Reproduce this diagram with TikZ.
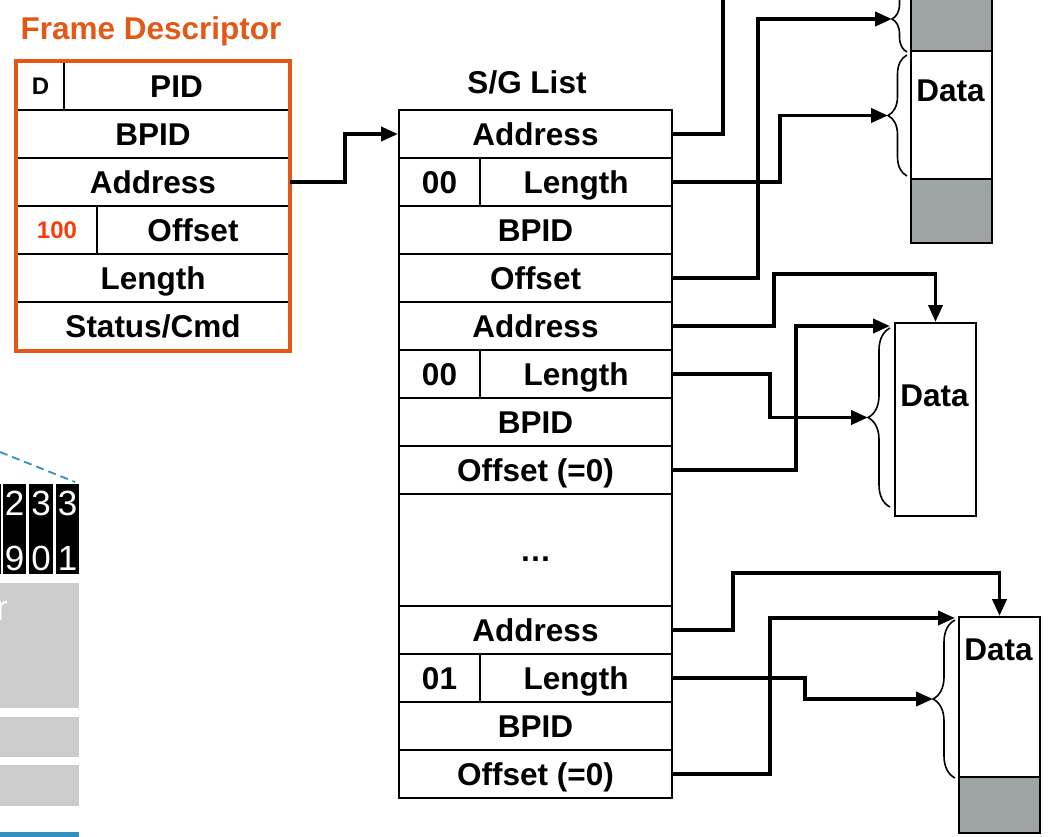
\documentclass[tikz,border=0pt]{standalone}
\usepackage{fontspec}
\setmainfont{Liberation Sans}
\usetikzlibrary{arrows.meta,decorations.pathreplacing}

\definecolor{fdorange}{RGB}{227,87,23}
\definecolor{fdred}{RGB}{245,60,10}
\definecolor{blkgray}{RGB}{156,164,166}
\definecolor{pgray}{RGB}{204,204,204}
\definecolor{pblue}{RGB}{50,145,190}

\tikzset{
  cell/.style={draw, line width=2pt, anchor=north west, inner sep=0pt,
    minimum height=48pt, text height=22.5pt, text depth=0pt,
    font=\bfseries\fontsize{31.5}{32}\selectfont},
  small/.style={font=\bfseries\fontsize{24}{24}\selectfont, text height=17pt},
  title/.style={font=\bfseries\fontsize{31.5}{32}\selectfont, text height=22.5pt, text depth=0pt},
  link/.style={line width=3.8pt},
  ptr/.style={link, -{Triangle[length=17pt,width=14pt]}},
  curly/.style={decorate, decoration={brace, amplitude=#1}, line width=1.6pt},
  datablk/.style={draw, line width=2pt, anchor=north west, minimum width=81pt, inner sep=0pt, fill=white},
  digit/.style={text=white, align=center, inner sep=0pt, font=\fontsize{35}{55}\selectfont},
}

\begin{document}
\begin{tikzpicture}[x=1pt, y=-1pt]
    \useasboundingbox (0,0) rectangle (1048,836);
    \clip (0,0) rectangle (1048,836);

    % Cut-off part of the neighbouring figure
    \draw[pblue, line width=1.8pt, dash pattern=on 8pt off 5pt] (0,452) -- (75,482);
    \fill[black] (0,484) rectangle (1,574);
    \fill[black] (3,484) rectangle (26,574);
    \fill[black] (29,484) rectangle (53,574);
    \fill[black] (56,484) rectangle (79,574);
    \node[digit] (c29) at (14.5,531) {2\\9};
    \node[digit] (c30) at (41,531) {3\\0};
    \node[digit] (c31) at (67.5,531) {3\\1};
    \fill[pgray] (0,583) rectangle (79,708);
    \fill[pgray] (0,717) rectangle (79,757);
    \fill[pgray] (0,765) rectangle (79,806);
    \node[text=white, font=\fontsize{36}{36}\selectfont, anchor=base east, inner sep=0pt] (rr) at (8,620) {r};
    \fill[pblue] (0,832) rectangle (79,840);

    % Frame Descriptor
    \node[title, text=fdorange] (fdtitle) at (151,28) {Frame Descriptor};
    \node[cell, small, minimum width=47pt] (fdD) at (16,61) {D};
    \node[cell, minimum width=225pt] (fdPID) at (63,61) {PID};
    \node[cell, minimum width=272pt] (fdBPID) at (16,109) {BPID};
    \node[cell, minimum width=272pt] (fdAddr) at (16,157) {Address};
    \node[cell, small, text=fdred, minimum width=80pt] (fd100) at (16,205) {100};
    \node[cell, minimum width=192pt] (fdOff) at (96,205) {Offset};
    \node[cell, minimum width=272pt] (fdLen) at (16,253) {Length};
    \node[cell, minimum width=272pt] (fdStat) at (16,301) {Status/Cmd};
    \draw[fdorange, line width=3.5pt] (fdD.north west) rectangle (fdStat.south east);

    % S/G List
    \node[title] (sgtitle) at (527,82) {S/G List};
    \node[cell, minimum width=273pt] (sgA1) at (398,109) {Address};
    \node[cell, minimum width=81pt] (sgZ1) at (398,157) {00};
    \node[cell, minimum width=192pt] (sgL1) at (479,157) {Length};
    \node[cell, minimum width=273pt] (sgB1) at (398,205) {BPID};
    \node[cell, minimum width=273pt] (sgO1) at (398,253) {Offset};
    \node[cell, minimum width=273pt] (sgA2) at (398,301) {Address};
    \node[cell, minimum width=81pt] (sgZ2) at (398,349) {00};
    \node[cell, minimum width=192pt] (sgL2) at (479,349) {Length};
    \node[cell, minimum width=273pt] (sgB2) at (398,397) {BPID};
    \node[cell, minimum width=273pt] (sgO2) at (398,445) {Offset (=0)};
    \node[cell, minimum width=273pt, minimum height=112pt] (sgDots) at (398,493) {…};
    \node[cell, minimum width=273pt] (sgA3) at (398,605) {Address};
    \node[cell, minimum width=81pt] (sgZ3) at (398,653) {01};
    \node[cell, minimum width=192pt] (sgL3) at (479,653) {Length};
    \node[cell, minimum width=273pt] (sgB3) at (398,701) {BPID};
    \node[cell, minimum width=273pt] (sgO3) at (398,749) {Offset (=0)};

    \draw[ptr] (fdAddr.east) -- ++(55,0) |- (sgA1.west);

    % Data buffer 1 (top)
    \node[datablk, fill=blkgray, minimum height=60pt] (blk1a) at (910,-10) {};
    \node[datablk, minimum height=128pt] (blk1) at (910,50) {};
    \node[datablk, fill=blkgray, minimum height=64pt] (blk1b) at (910,178) {};
    \node[title] (data1) at (950.5,90) {Data};
    \draw[curly=15pt] (907,52) -- (907,-14);
    \draw[curly=19pt] (907,176) -- (907,55);
    \coordinate (tip1a) at (892,19);
    \coordinate (tip1b) at (888,115.5);
    \coordinate (out1) at (723,-5);

    % Data buffer 2 (middle)
    \node[datablk, minimum height=193pt] (blk2) at (894,322) {};
    \node[title] (data2) at (934.5,395) {Data};
    \draw[curly=22pt] (890,507) -- (890,328);
    \coordinate (tip2) at (868,417.5);
    \coordinate (br2top) at (890,326);

    % Data buffer 3 (bottom)
    \node[datablk, minimum height=160pt] (blk3) at (958,616) {};
    \node[datablk, fill=blkgray, minimum height=56pt] (blk3b) at (958,776) {};
    \node[title] (data3) at (998.5,649) {Data};
    \draw[curly=22pt] (955,778) -- (955,620);
    \coordinate (tip3) at (933,699);
    \coordinate (br3top) at (955,618);

    % Pointers from the S/G entries
    \draw[link] (sgA1.east) -| (out1);
    \draw[ptr] (sgL1.east) -- ++(107,0) |- (tip1b);
    \draw[ptr] (sgO1.east) -- ++(85,0) |- (tip1a);

    \draw[ptr] (sgA2.east) -- ++(101,0) |- ([yshift=48pt]blk2.north) -- (blk2.north);
    \draw[ptr] (sgL2.east) -- ++(97,0) |- (tip2);
    \draw[ptr] (sgO2.east) -- ++(123,0) |- (br2top);

    \draw[ptr] (sgA3.east) -- ++(60,0) |- ([yshift=43pt]blk3.north) -- (blk3.north);
    \draw[ptr] (sgL3.east) -- ++(132,0) |- (tip3);
    \draw[ptr] (sgO3.east) -- ++(97,0) |- (br3top);
\end{tikzpicture}
\end{document}
